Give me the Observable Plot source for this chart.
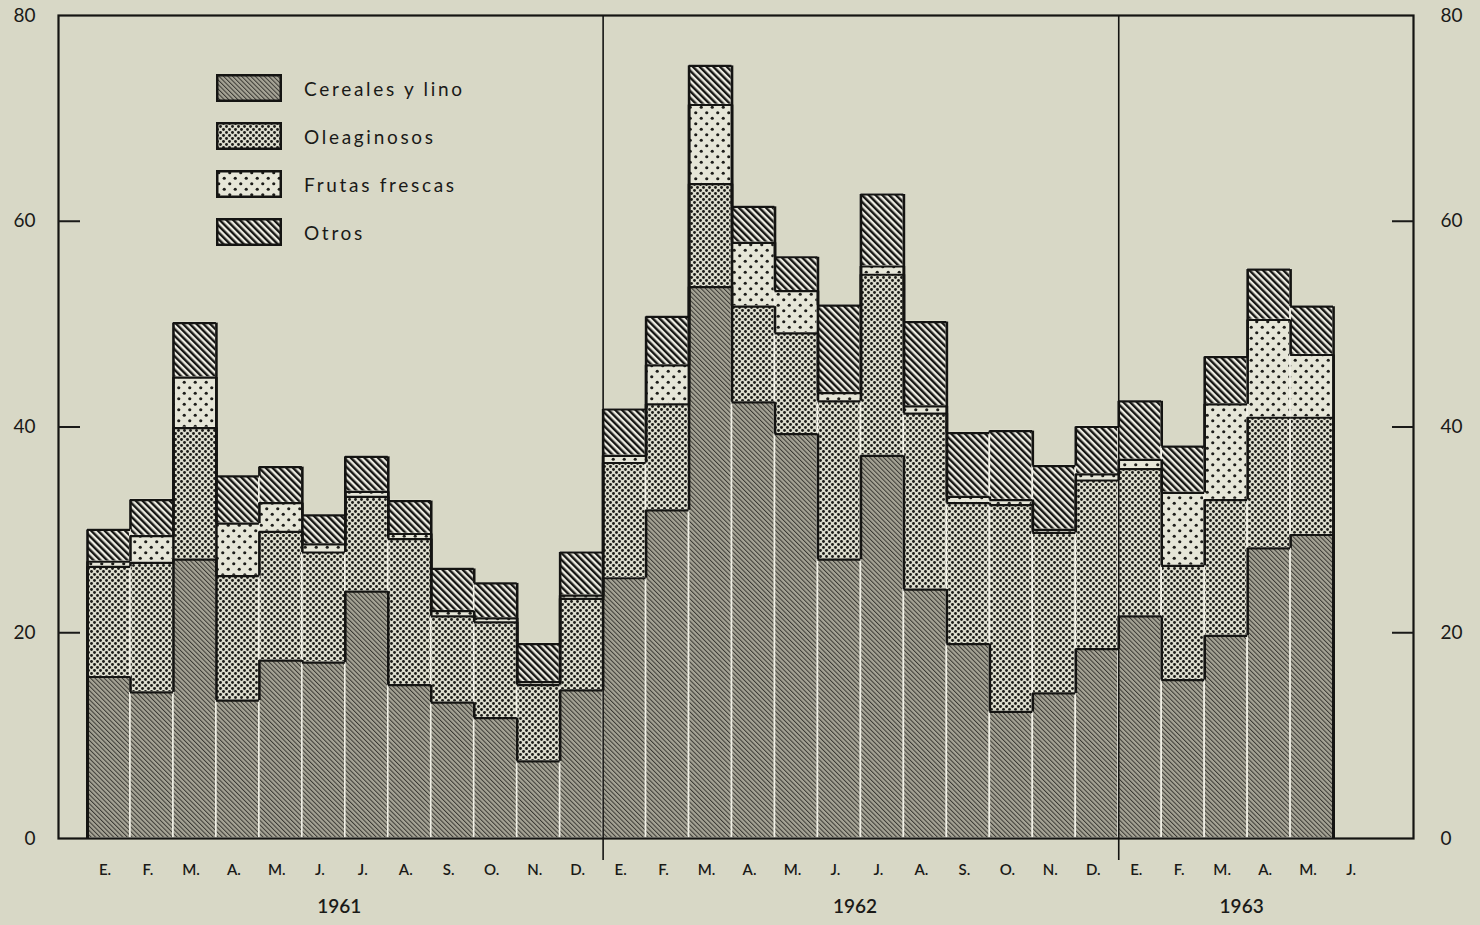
<!DOCTYPE html>
<html><head><meta charset="utf-8">
<script src="https://cdn.jsdelivr.net/npm/d3@7"></script>
<script src="https://cdn.jsdelivr.net/npm/@observablehq/plot@0.6"></script>
<style>
body{margin:0;background:#d8d8c6;font-family:Lato,"Open Sans",sans-serif;color:#1a1a18;}
#wrap{position:relative;width:1480px;height:925px;overflow:hidden;}
#legend{position:absolute;left:216px;top:64px;}
.item{display:flex;align-items:center;height:48px;}
.item svg{display:block;}
.item span{margin-left:22px;font-size:19px;letter-spacing:2.7px;}
</style></head><body>
<svg width="0" height="0" style="position:absolute">
<defs>
<pattern id="pCer" width="3.2" height="3.2" patternUnits="userSpaceOnUse" patternTransform="rotate(-45)">
  <rect width="3.2" height="3.2" fill="#a6a496"/>
  <rect x="0" y="0" width="1.0" height="3.2" fill="#3a3934"/>
</pattern>
<pattern id="pOle" width="6" height="6" patternUnits="userSpaceOnUse">
  <rect width="6" height="6" fill="#dcdccd"/>
  <circle cx="1.5" cy="1.5" r="1.45" fill="#1c1c19"/>
  <circle cx="4.5" cy="4.5" r="1.45" fill="#1c1c19"/>
</pattern>
<pattern id="pFru" width="11" height="11" patternUnits="userSpaceOnUse">
  <rect width="11" height="11" fill="#e6e6d8"/>
  <circle cx="2.75" cy="2.75" r="1.6" fill="#1c1c19"/>
  <circle cx="8.25" cy="8.25" r="1.6" fill="#1c1c19"/>
</pattern>
<pattern id="pOtr" width="4.8" height="4.8" patternUnits="userSpaceOnUse" patternTransform="rotate(-45)">
  <rect width="4.8" height="4.8" fill="#edece2"/>
  <rect x="0" y="0" width="2.4" height="4.8" fill="#151513"/>
</pattern>
</defs>
</svg>
<div id="wrap"><div id="chart"></div><div id="legend"></div></div>
<script>
// Month labels (Spanish initials), Jan 1961 .. Jun 1963 (last slot empty)
const monthLabels = ["E.","F.","M.","A.","M.","J.","J.","A.","S.","O.","N.","D.",
                     "E.","F.","M.","A.","M.","J.","J.","A.","S.","O.","N.","D.",
                     "E.","F.","M.","A.","M.","J."];
const seriesNames = ["Cereales y lino","Oleaginosos","Frutas frescas","Otros"];
const cereales    = [15.7,14.2,27.1,13.4,17.3,17.1,24.0,14.9,13.2,11.7, 7.5,14.4,
                     25.3,31.9,53.6,42.4,39.3,27.1,37.2,24.2,18.9,12.3,14.1,18.4,
                     21.6,15.4,19.7,28.2,29.5];
const oleaginosos = [10.7,12.6,12.8,12.1,12.5,10.7, 9.2,14.2, 8.4, 9.3, 7.4, 8.9,
                     11.2,10.3,10.0, 9.3, 9.8,15.4,17.6,17.1,13.7,20.1,15.6,16.4,
                     14.3,11.1,13.2,12.7,11.4];
const frutas      = [ 0.5, 2.6, 4.9, 5.1, 2.8, 0.8, 0.5, 0.5, 0.5, 0.4, 0.3, 0.3,
                      0.7, 3.8, 7.7, 6.2, 4.1, 0.8, 0.8, 0.7, 0.6, 0.5, 0.3, 0.6,
                      0.9, 7.1, 9.3, 9.5, 6.1];
const otros       = [ 3.1, 3.5, 5.3, 4.6, 3.5, 2.8, 3.4, 3.2, 4.1, 3.4, 3.7, 4.2,
                      4.5, 4.7, 3.8, 3.5, 3.3, 8.5, 7.0, 8.2, 6.2, 6.7, 6.2, 4.6,
                      5.7, 4.5, 4.6, 4.9, 4.7];
const years = ["1961","1962","1963"];
const yearStart = [0,12,24];
const yearSlots = [12,12,6];
const yTicks = [0,20,40,60,80];
const patterns = ["url(#pCer)","url(#pOle)","url(#pFru)","url(#pOtr)"];

const layers = [cereales, oleaginosos, frutas, otros];
const n = cereales.length;
// cumulative tops per bar
const cum = d3.range(n).map(i => { let c = 0; return layers.map(a => (c += a[i])); });
const segs = [];
for (let i = 0; i < n; i++) layers.forEach((a, k) => segs.push({
  x1: i, x2: i + 1, y1: k ? cum[i][k - 1] : 0, y2: cum[i][k], series: seriesNames[k]
}));
const steps = [];
for (let b = 0; b <= n; b++) layers.forEach((a, k) => {
  const y1 = b > 0 ? cum[b - 1][k] : 0, y2 = b < n ? cum[b][k] : 0;
  if (y1 !== y2) steps.push({x: b, y1, y2});
});
const yearBounds = yearStart.slice(1);

const chart = Plot.plot({
  width: 1480, height: 925,
  marginLeft: 58, marginRight: 67, marginTop: 15, marginBottom: 87,
  x: {domain: [-0.675, 30.86], axis: null},
  y: {domain: [0, 80], axis: null},
  color: {type: "ordinal", domain: seriesNames, range: patterns},
  style: {background: "transparent", fontFamily: "Lato, 'Open Sans', sans-serif", color: "#1a1a18"},
  marks: [
    Plot.rect(segs, {x1: "x1", x2: "x2", y1: "y1", y2: "y2", fill: "series", stroke: "#f1f0e6", strokeWidth: 1.6}),
    Plot.ruleY(segs, {y: "y2", x1: "x1", x2: "x2", stroke: "#141412", strokeWidth: 2.2}),
    Plot.ruleX(steps, {x: "x", y1: "y1", y2: "y2", stroke: "#141412", strokeWidth: 2.6}),
    Plot.ruleX(yearBounds, {stroke: "#141412", strokeWidth: 1.6, insetBottom: -22}),
    Plot.frame({stroke: "#141412", strokeWidth: 2.2}),
    Plot.axisY({anchor: "left", ticks: [20,40,60], tickSize: -22, tickFormat: () => "", strokeWidth: 2}),
    Plot.axisY({anchor: "right", ticks: [20,40,60], tickSize: -22, tickFormat: () => "", strokeWidth: 2}),
    Plot.axisY({anchor: "left", ticks: yTicks, tickSize: 0, tickPadding: 23, fontSize: 19}),
    Plot.axisY({anchor: "right", ticks: yTicks, tickSize: 0, tickPadding: 27, fontSize: 19}),
    Plot.axisX({ticks: monthLabels.map((_, i) => i + 0.5), tickFormat: d => monthLabels[Math.floor(d)],
                tickSize: 0, tickPadding: 26, fontSize: 15, fontWeight: 600, dx: -4}),
    Plot.text(years, {x: (d, i) => yearStart[i] + yearSlots[i] / 2, frameAnchor: "bottom", dy: 74, fontSize: 19, fontWeight: 600, dx: -6})
  ]
});
document.getElementById("chart").append(chart);

const legend = document.getElementById("legend");
seriesNames.forEach((s, k) => {
  const row = document.createElement("div");
  row.className = "item";
  row.innerHTML = `<svg width="66" height="28"><rect x="1.25" y="1.25" width="63.5" height="25.5" fill="${patterns[k]}" stroke="#141412" stroke-width="2.5"/></svg><span>${s}</span>`;
  legend.append(row);
});
</script>
</body></html>
